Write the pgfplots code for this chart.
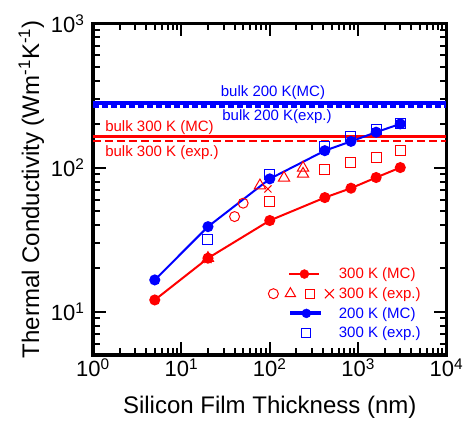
\documentclass[border=0pt]{standalone}
\usepackage{pgfplots}
\pgfplotsset{compat=1.18}
\usepackage{fontspec}
\setmainfont{Liberation Sans}
\usetikzlibrary{calc}
\begin{document}
\begin{tikzpicture}
\begin{loglogaxis}[
  name=ax,
  scale only axis, width=353.5pt, height=331.5pt,
  xmin=1, xmax=10000, ymin=5, ymax=1000,
  log basis x=10, log basis y=10,
  axis line style={line width=3.5pt},
  tick style={line width=2pt, black},
  major tick length=13pt, minor tick length=7pt,
  tick align=inside,
  xticklabel={\pgfmathtruncatemacro{\e}{round(\tick)}10\textsuperscript{\e}},
  yticklabel={\pgfmathtruncatemacro{\e}{round(\tick)}10\textsuperscript{\e}},
  tick label style={font=\fontsize{22}{26}\selectfont},
  yticklabel style={xshift=-5pt},
  xlabel={Silicon Film Thickness (nm)},
  ylabel={Thermal Conductivity (Wm\textsuperscript{-1}K\textsuperscript{-1})},
  label style={font=\fontsize{24}{28}\selectfont},
  xlabel style={yshift=-12pt},
  legend style={at={(0.543,0.274)}, anchor=north west, draw=none, fill=none,
    font=\fontsize{15}{18}\selectfont, row sep=4.3pt,
    nodes={inner sep=1.5pt}},
  legend cell align=left,
]
% bulk lines
\addplot[blue, line width=3.4pt, forget plot] coordinates {(1,280) (10000,280)};
\addplot[blue, line width=3.4pt, dash pattern=on 6pt off 3pt, forget plot] coordinates {(1,265) (10000,265)};
\addplot[red, line width=3.5pt, forget plot] coordinates {(1,164) (10000,164)};
\addplot[red, line width=2.5pt, dash pattern=on 8pt off 4pt, forget plot] coordinates {(1,153) (10000,153)};
% MC curves
\addplot[red, line width=2pt, mark=*, mark size=4.5pt, forget plot] coordinates {
  (5,12.05) (20,23.5) (100,42.9) (420,61.9) (830,71.9) (1600,85.3) (3000,100)};
\addplot[blue, line width=2pt, mark=*, mark size=4.5pt, forget plot] coordinates {
  (5,16.6) (20,38.9) (100,83.5) (420,131) (830,152) (1600,176) (3000,201)};
% experiments 300 K (red)
\addplot[red, only marks, mark=o, mark size=5pt, line width=1pt, forget plot] coordinates {
  (40,45.7) (50,56.6)};
\addplot[red, only marks, mark=triangle, mark size=6.5pt, line width=1pt, forget plot] coordinates {
  (20,23.5) (77.5,75) (145,84.8) (238,99.6) (238,90.3)};
\addplot[red, only marks, mark=square, mark size=5pt, line width=1pt, forget plot] coordinates {
  (100,58) (420,96.4) (830,108) (1600,118) (3000,131)};
\addplot[red, only marks, mark=x, mark size=5pt, line width=1pt, forget plot] coordinates {
  (20,23) (95.4,71.1)};
% experiments (blue squares)
\addplot[blue, only marks, mark=square, mark size=5pt, line width=1pt, forget plot] coordinates {
  (20,31.5) (100,88.9) (420,140) (830,163) (1600,183) (3000,203)};
% labels
\node[blue, font=\fontsize{15}{18}\selectfont] at (axis cs:108.7,330) {bulk 200 K(MC)};
\node[blue, font=\fontsize{15}{18}\selectfont] at (axis cs:120.6,225) {bulk 200 K(exp.)};
\node[red, font=\fontsize{15}{18}\selectfont, anchor=west, inner sep=0pt] at (axis cs:1.37,189) {bulk 300 K (MC)};
\node[red, font=\fontsize{15}{18}\selectfont, anchor=west, inner sep=0pt] at (axis cs:1.37,126.5) {bulk 300 K (exp.)};
% legend
\addlegendimage{legend image code/.code={
  \path[draw=none, fill=none] (0pt,-5pt) rectangle (48pt,5pt);
  \draw[red, line width=2.5pt] (0pt,0pt) -- (30pt,0pt);
  \fill[red] (15pt,0pt) circle (4.5pt);}}
\addlegendentry{\textcolor{red}{300 K (MC)}}
\addlegendimage{legend image code/.code={
  \path[draw=none, fill=none] (0pt,-5pt) rectangle (48pt,5pt);
  \draw[red, line width=1pt, overlay] (-16pt,0pt) circle (5pt);
  \draw[red, line width=1pt, overlay] (1pt,6pt) -- (-4.2pt,-3pt) -- (6.2pt,-3pt) -- cycle;
  \draw[red, line width=1pt, overlay] (16.5pt,-4.5pt) rectangle (25.5pt,4.5pt);
  \draw[red, line width=1pt, overlay] (35.5pt,-4.5pt) -- (44.5pt,4.5pt) (35.5pt,4.5pt) -- (44.5pt,-4.5pt);}}
\addlegendentry{\textcolor{red}{300 K (exp.)}}
\addlegendimage{legend image code/.code={
  \path[draw=none, fill=none] (0pt,-5pt) rectangle (48pt,5pt);
  \draw[blue, line width=4pt] (1pt,0pt) -- (32pt,0pt);
  \fill[blue] (17pt,0pt) circle (4.5pt);}}
\addlegendentry{\textcolor{blue}{200 K (MC)}}
\addlegendimage{legend image code/.code={
  \path[draw=none, fill=none] (0pt,-5pt) rectangle (48pt,5pt);
  \draw[blue, line width=1pt] (12.5pt,-4.5pt) rectangle (21.5pt,4.5pt);}}
\addlegendentry{\textcolor{blue}{300 K (exp.)}}
\end{loglogaxis}
\pgfresetboundingbox
\path ($(ax.south west)+(-93pt,-68pt)$) rectangle ($(ax.north east)+(24.5pt,23.5pt)$);
\end{tikzpicture}
\end{document}
